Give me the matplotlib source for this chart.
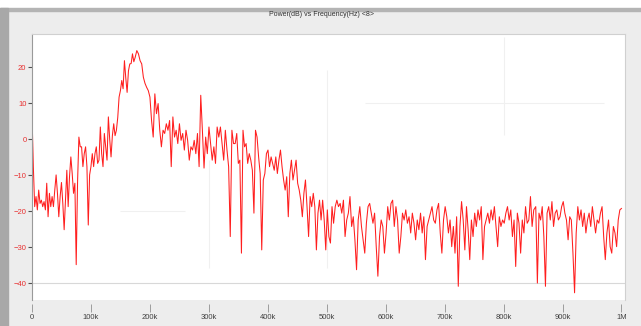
import numpy as np
from matplotlib import pyplot as plt
from matplotlib.patches import Rectangle

plt.rcParams['font.family'] = ['Liberation Sans', 'DejaVu Sans']

# frequency span (kHz) covered by each run of readings below
spans_khz = [(0, 175), (177.8, 341.9), (344.7, 511.6),
             (514.4, 681.4), (684.2, 851.2), (854.6, 1000)]

# power in dB left to right
power_0 = [6.6, -7.6, -18.7, -15.9, -19.6, -14.1, -17.8, -16.9, -18.7, -17.3,
           -19.6, -12.2, -21.5, -15.0, -18.7, -15.9, -18.7, -14.1, -9.9, -15.0,
           -21.5, -15.9, -12.0, -17.8, -25.1, -16.9, -8.6, -18.7, -10.4, -4.9,
           -9.5, -15.0, -12.2, -34.8, -12.0, 0.6, -2.1, -2.1, -7.6, -4.0,
           -2.1, -7.6, -23.8, -9.9, -7.6, -4.0, -7.6, -4.0, -2.1, -6.7,
           -5.8, 3.4, -4.0, -7.6, 1.6, -2.0, -5.8, 6.2, 0.0, -4.9,
           1.0, 4.3, 1.0, 2.5, 6.0, 11.7, 13.5, 16.3, 14.0, 21.8,
           17.0, 13.0, 19.0, 20.9, 21.0, 23.7, 21.5, 22.7]
power_1 = [24.6, 23.7, 21.8, 20.9, 17.2, 15.5, 14.4, 13.5, 11.7, 5.2,
           0.6, 12.6, 7.1, 9.9, 2.5, -2.1, 2.5, 1.6, 4.3, 2.5,
           5.2, -7.6, 6.2, 0.6, 2.5, -1.2, 4.3, -0.3, 1.6, -3.0,
           2.5, -0.3, -5.8, -2.1, -3.0, -0.3, -4.0, 1.6, -7.6, 12.2,
           2.5, -8.0, 0.6, -4.0, 3.4, -1.2, -5.8, -2.1, -6.7, 3.4,
           0.6, 3.4, -1.2, -5.8, 2.5, -3.0, -7.6, -27.0, 2.5, -1.2]
power_2 = [-1.2, 1.6, -6.7, -5.8, -31.6, 2.5, -2.1, -1.2, -6.7, -4.0,
           -5.8, -8.6, -20.5, 2.5, 0.6, -4.9, -9.5, -30.7, -11.3, -9.5,
           -4.0, -3.0, -7.6, -4.9, -6.7, -8.6, -4.9, -9.5, -5.8, -3.0,
           -7.6, -11.3, -14.1, -10.4, -21.5, -9.5, -5.8, -11.3, -8.6, -5.8,
           -12.2, -14.1, -16.9, -21.5, -15.0, -11.3, -18.7, -27.0, -15.9, -18.7,
           -15.0, -18.7, -30.7, -20.5, -16.9, -22.4, -16.9, -22.4, -30.7, -19.6,
           -27.0, -28.8, -18.7, -23.3]
power_3 = [-18.7, -16.9, -18.7, -17.8, -20.5, -16.9, -27.0, -22.4, -20.5, -15.9,
           -24.2, -21.5, -27.9, -36.2, -22.4, -18.7, -24.2, -27.9, -31.6, -23.3,
           -18.7, -17.8, -20.5, -23.3, -20.5, -29.8, -38.0, -27.0, -22.4, -24.2,
           -31.6, -26.0, -18.7, -22.4, -17.8, -16.9, -24.2, -18.7, -22.4, -31.6,
           -27.0, -20.5, -22.4, -19.6, -23.3, -21.5, -26.0, -20.5, -23.3, -27.9,
           -22.4, -25.1, -20.5, -26.0, -21.5, -33.4, -24.2, -22.4, -20.5, -18.7,
           -22.4]
power_4 = [-23.3, -19.6, -17.8, -26.0, -31.6, -22.4, -18.7, -21.5, -26.0, -22.4,
           -29.8, -24.2, -31.6, -21.5, -40.8, -24.2, -17.3, -22.4, -30.7, -18.7,
           -25.1, -33.4, -22.4, -27.0, -20.5, -24.2, -19.6, -22.4, -18.7, -33.4,
           -24.2, -22.4, -20.5, -23.3, -19.6, -22.4, -18.7, -24.2, -29.8, -21.5,
           -24.2, -22.4, -23.3, -20.5, -18.7, -22.4, -19.6, -27.0, -22.4, -35.3,
           -20.5, -23.3, -31.6, -22.4, -26.0, -18.7, -23.3, -22.4, -15.9, -24.2,
           -19.6]
power_5 = [-18.7, -39.9, -20.5, -22.4, -18.7, -27.0, -40.8, -20.5, -18.7, -22.4,
           -17.3, -24.2, -20.5, -19.6, -22.4, -21.5, -18.7, -17.3, -20.5, -22.4,
           -27.9, -21.5, -22.4, -31.6, -42.6, -26.0, -18.7, -22.4, -19.6, -24.2,
           -20.5, -26.0, -22.4, -20.5, -24.2, -18.7, -22.4, -26.0, -22.4, -23.3,
           -20.5, -18.7, -27.0, -33.4, -26.0, -22.4, -29.8, -31.6, -24.2, -26.0,
           -29.8, -22.4, -19.6, -19.2]

y_ticks = [20, 10, 0, -10, -20, -30, -40]
x_ticks = [0, 100e3, 200e3, 300e3, 400e3, 500e3, 600e3, 700e3, 800e3, 900e3, 1e6]
x_labels = ['0', '100k', '200k', '300k', '400k', '500k', '600k', '700k',
            '800k', '900k', '1M']

# faint leftover grid pieces seen in the screenshot: (level, start, end)
faint_h = [(-20, 150e3, 260e3), (10, 565e3, 970e3)]
faint_v = [(300e3, -35.7, -5.8), (500e3, -35.7, 19.2), (800e3, 1.2, 28.5)]

runs = [power_0, power_1, power_2, power_3, power_4, power_5]
freq = np.concatenate([np.linspace(a, b, len(p))
                       for (a, b), p in zip(spans_khz, runs)]) * 1e3
power = np.concatenate(runs)

W, H = 641, 326
fig = plt.figure(figsize=(W / 100, H / 100), dpi=100, facecolor='#ededed')
# window chrome: white strip on top, dark edge left, frame line
fig.patches.append(Rectangle((0, 1 - 8 / H), 1, 8 / H, transform=fig.transFigure,
                             color='white', zorder=0))
fig.patches.append(Rectangle((0, 1 - 11 / H), 1, 3 / H, transform=fig.transFigure,
                             color='#b4b4b4', zorder=0))
fig.patches.append(Rectangle((0, 0), 8 / W, 1 - 8 / H, transform=fig.transFigure,
                             color='#a8a8a8', zorder=0))

ax = fig.add_axes([32 / W, 26 / H, 593 / W, 266 / H])
ax.set_facecolor('white')
for lvl, a, b in faint_h:
    ax.hlines(lvl, a, b, color='#f0f0f0', lw=0.8, zorder=0)
for pos, a, b in faint_v:
    ax.vlines(pos, a, b, color='#f0f0f0', lw=0.8, zorder=0)
ax.axhline(-40, color='#d8d8d8', lw=0.8, zorder=0)
ax.plot(freq, power, color='#ff1e1e', lw=0.75)

ax.set_xlim(0, 1.006e6)
ax.set_ylim(-44.6, 29.2)
ax.set_xticks(x_ticks)
ax.set_xticklabels(x_labels)
ax.set_yticks(y_ticks)

for s in ['top', 'right']:
    ax.spines[s].set_color('#d0d0d0')
ax.spines['left'].set_color('#9a9a9a')
ax.spines['bottom'].set_position(('outward', 3))
ax.spines['bottom'].set_visible(False)

ax.tick_params(axis='x', direction='out', length=6, width=0.6, color='#909090',
               labelsize=5.5, labelcolor='#404040', pad=1)
ax.tick_params(axis='y', direction='out', length=3, width=0.8, color='#505050',
               labelsize=5.5, labelcolor='#e83030', pad=1)

fig.text(322 / W, 1 - 15 / H, 'Power(dB) vs Frequency(Hz) <8>', ha='center',
         va='center', fontsize=5, color='#303030')

fig.savefig('out.png', dpi=100, facecolor=fig.get_facecolor())
